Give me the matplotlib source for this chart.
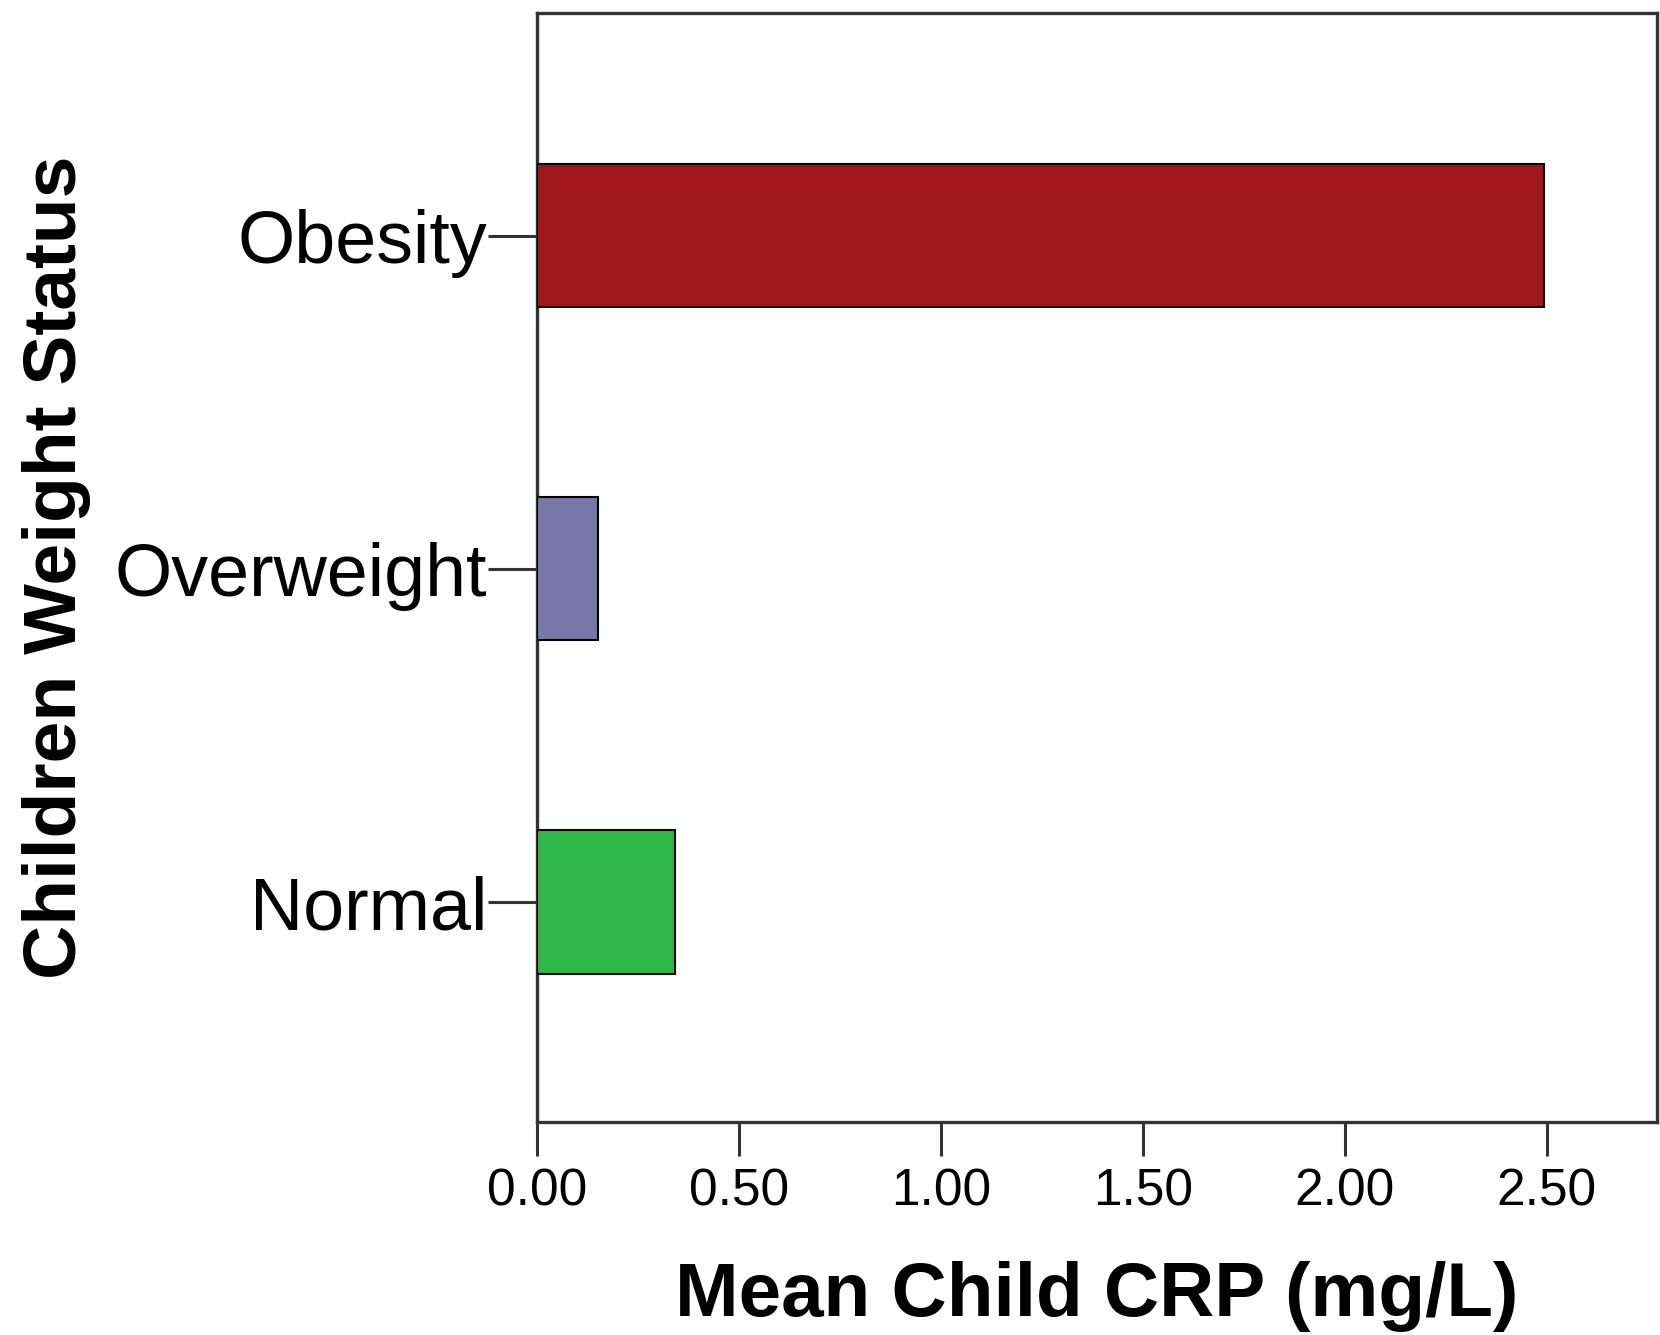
import matplotlib.pyplot as plt
import numpy as np

plt.rcParams['font.family'] = ['Liberation Sans', 'DejaVu Sans']

# data
categories = ["Normal", "Overweight", "Obesity"]
mean_crp = [0.342, 0.152, 2.492]
bar_colors = ["#2EB84A", "#7878A8", "#A0161A"]
xticks = [0.0, 0.5, 1.0, 1.5, 2.0, 2.5]

fig = plt.figure(figsize=(16.6, 13.35), dpi=100)
ax = fig.add_axes([0.3235, 0.1596, 0.6745, 0.8304])

ypos = np.arange(len(categories))
ax.barh(ypos, mean_crp, height=0.43, color=bar_colors,
        edgecolor="black", linewidth=1.5, zorder=3)

ax.set_xlim(0, 2.772)
ax.set_ylim(-0.66, 2.667)
ax.set_yticks(ypos)
ax.set_yticklabels(categories, fontsize=53)
ax.set_xticks(xticks)
ax.set_xticklabels([f"{v:.2f}" for v in xticks], fontsize=37)

ax.tick_params(axis="y", length=35, width=2.2, color="#333333", pad=1)
ax.tick_params(axis="x", length=24.5, width=2.2, color="#333333", pad=8)
for s in ax.spines.values():
    s.set_linewidth(2.4)
    s.set_color("#333333")

ax.set_xlabel("Mean Child CRP (mg/L)", fontsize=55, fontweight="bold", labelpad=32)
ax.set_ylabel("Children Weight Status", fontsize=54, fontweight="bold", labelpad=17)

fig.savefig("out.png", dpi=100)
